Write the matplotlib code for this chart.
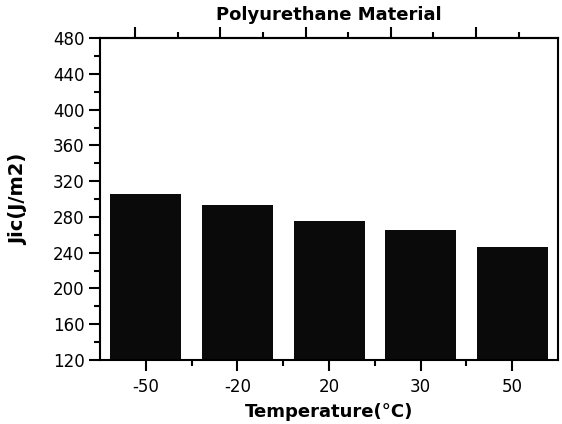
import numpy as np
import matplotlib.pyplot as plt
from matplotlib.ticker import MultipleLocator, FixedLocator, NullFormatter

temps = ['-50', '-20', '20', '30', '50']
jic = [306, 293, 276, 265, 246]

fig = plt.figure(figsize=(5.62, 4.24), dpi=100)
ax = fig.add_axes([0.178, 0.151, 0.815, 0.759])

x = np.arange(len(temps))
ax.bar(x, jic, width=0.775, color='#0a0a0a', bottom=0)

ax.set_xlim(-0.5, len(temps) - 0.5)
ax.set_ylim(120, 480)
ax.set_xticks(x)
ax.set_xticklabels(temps)
ax.xaxis.set_minor_locator(FixedLocator(x[:-1] + 0.5))
ax.yaxis.set_major_locator(MultipleLocator(40))
ax.yaxis.set_minor_locator(MultipleLocator(20))

ax.tick_params(which='major', direction='out', length=8, width=1.5, labelsize=12, pad=3)
ax.tick_params(which='minor', direction='out', length=4, width=1.5)
ax.tick_params(axis='x', which='major', pad=5)

# top axis ticks are spaced on their own
top = ax.secondary_xaxis('top')
top.set_xticks(np.arange(-0.115, 4.5, 0.93))
top.xaxis.set_minor_locator(FixedLocator(np.arange(-0.115 + 0.465, 4.5, 0.93)))
top.xaxis.set_major_formatter(NullFormatter())
top.tick_params(which='major', direction='out', length=8, width=1.5)
top.tick_params(which='minor', direction='out', length=4, width=1.5)
top.spines['top'].set_linewidth(1.5)

for s in ax.spines.values():
    s.set_linewidth(1.5)

ax.set_title('Polyurethane Material', fontsize=13, fontweight='bold', pad=13)
ax.set_xlabel('Temperature(°C)', fontsize=13, fontweight='bold', labelpad=5)
ax.set_ylabel('Jic(J/m2)', fontsize=14, fontweight='bold', labelpad=18)

fig.savefig('out.png', dpi=100)
